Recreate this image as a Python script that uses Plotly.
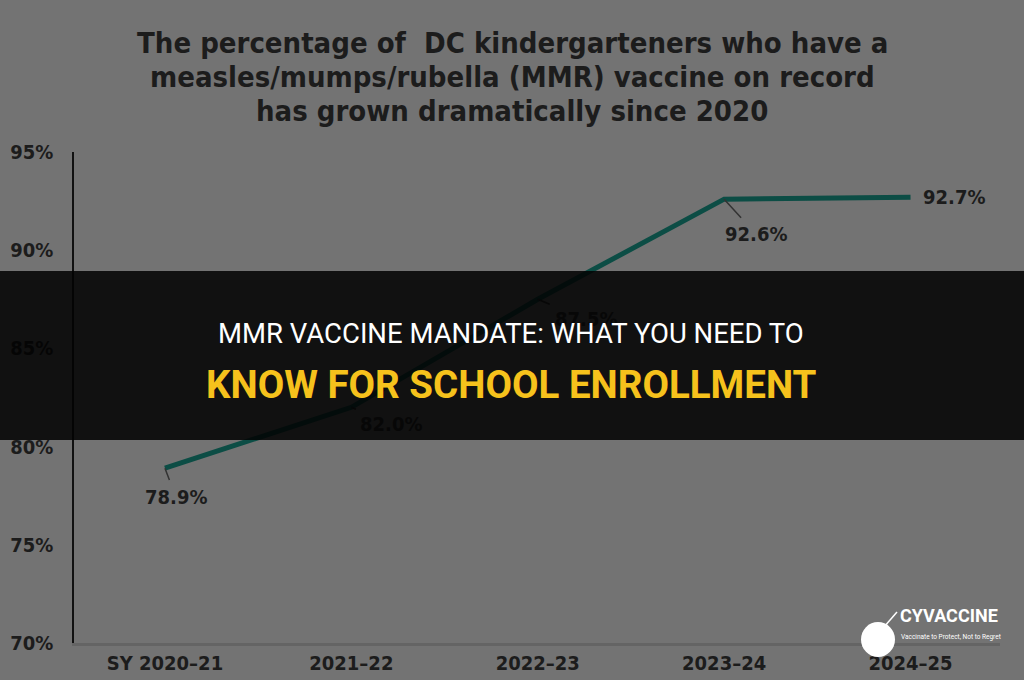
import plotly.graph_objects as go

categories = ["SY 2020–21", "2021–22", "2022–23", "2023–24", "2024–25"]
values = [78.9, 82.0, 87.5, 92.6, 92.7]
value_labels = ["78.9%", "82.0%", "87.5%", "92.6%", "92.7%"]
y_ticks = [70, 75, 80, 85, 90, 95]
title_lines = ["The percentage of  DC kindergarteners who have a",
               "measles/mumps/rubella (MMR) vaccine on record",
               "has grown dramatically since 2020"]

BG = "#737373"
TXT = "#1c1c1c"
COND = "DejaVu Sans Condensed, DejaVu Sans, sans-serif"
ROBO = "Roboto, sans-serif"

PLOT_TOP, PLOT_BOT = 152, 643
L, R = 74, 1000
H = PLOT_BOT - PLOT_TOP
W = R - L


def py(p):
    return (PLOT_BOT - p) / H


def px(p):
    return (p - L) / W


xs = list(range(len(categories)))

fig = go.Figure()
fig.add_trace(go.Scatter(x=xs, y=values, mode="lines",
                         line=dict(color="#0c4d45", width=5), hoverinfo="skip"))

# label offsets (pixels) and whether leader lines are shown
offsets = [(11, 29, True), (40, 17, True), (48, 20, True), (32, 35, True), (43, 0, False)]
dimmed = [False, True, True, False, False]
for x, v, lab, (ax, ay, arrow), dim in zip(xs, values, value_labels, offsets, dimmed):
    col = "#070707" if dim else TXT
    if arrow:
        fig.add_annotation(x=x, y=v, xref="x", yref="y", text=f"<b>{lab}</b>",
                           showarrow=True, arrowhead=0, arrowwidth=1.5,
                           arrowcolor="#070707" if dim else "#333333",
                           ax=ax, ay=ay, standoff=0, startstandoff=4,
                           font=dict(family=COND, size=20, color=col))
    else:
        fig.add_annotation(x=x, y=v, xref="x", yref="y", text=f"<b>{lab}</b>",
                           showarrow=False, xshift=ax, yshift=-ay,
                           font=dict(family=COND, size=20, color=col))

# title
for i, line in enumerate(title_lines):
    fig.add_annotation(x=px(512), y=py(43 + 34 * i), xref="paper", yref="paper",
                       xanchor="center", yanchor="middle", text=f"<b>{line}</b>",
                       showarrow=False, font=dict(family=COND, size=29, color=TXT))

# banner
fig.add_shape(type="rect", xref="paper", yref="paper", x0=px(0), x1=px(1024),
              y0=py(440), y1=py(271), fillcolor="rgba(2,2,2,0.87)",
              line=dict(width=0), layer="above")
fig.add_annotation(x=px(511), y=py(333), xref="paper", yref="paper",
                   text="MMR VACCINE MANDATE: WHAT YOU NEED TO", showarrow=False,
                   font=dict(family=ROBO, size=27.5, color="#ffffff"))
fig.add_annotation(x=px(511), y=py(384), xref="paper", yref="paper",
                   text="<b>KNOW FOR SCHOOL ENROLLMENT</b>", showarrow=False,
                   font=dict(family=ROBO, size=38.5, color="#f6c21c"))

# logo
fig.add_shape(type="circle", xref="paper", yref="paper",
              x0=px(861), x1=px(895), y0=py(657), y1=py(622),
              fillcolor="#ffffff", line=dict(width=0), layer="above")
fig.add_shape(type="line", xref="paper", yref="paper",
              x0=px(884), x1=px(897), y0=py(627), y1=py(612),
              line=dict(color="#ffffff", width=1.5), layer="above")
fig.add_annotation(x=px(898), y=py(628), xref="paper", yref="paper", xanchor="left",
                   text="<b>CYVACCINE</b>", showarrow=False,
                   font=dict(family=ROBO, size=18, color="#ffffff"))
fig.add_annotation(x=px(899), y=py(643), xref="paper", yref="paper", xanchor="left",
                   text="Vaccinate to Protect, Not to Regret", showarrow=False,
                   font=dict(family=ROBO, size=6.5, color="#ffffff"))

fig.update_layout(
    width=1024, height=680,
    margin=dict(l=L, r=1024 - R, t=PLOT_TOP, b=680 - PLOT_BOT, autoexpand=False),
    paper_bgcolor=BG, plot_bgcolor=BG,
    showlegend=False,
    xaxis=dict(range=[-0.488, 4.48], tickmode="array", tickvals=xs,
               ticktext=[f"<b>{c}</b>" for c in categories], automargin=False,
               showgrid=False, zeroline=False, showline=True, linecolor="#646464",
               linewidth=3, ticks="", tickfont=dict(family=COND, size=20, color=TXT)),
    yaxis=dict(range=[70, 95], tickmode="array", tickvals=y_ticks,
               ticktext=[f"<b>{t}%</b>" for t in y_ticks], automargin=False,
               showgrid=False, zeroline=False, showline=True, linecolor="#111111",
               linewidth=1.5, ticks="", ticklabelstandoff=15,
               tickfont=dict(family=COND, size=20, color=TXT)),
)

fig.write_html("out.html", config={"displayModeBar": False},
               post_script="document.body.style.margin='0';document.body.style.overflow='hidden';")
